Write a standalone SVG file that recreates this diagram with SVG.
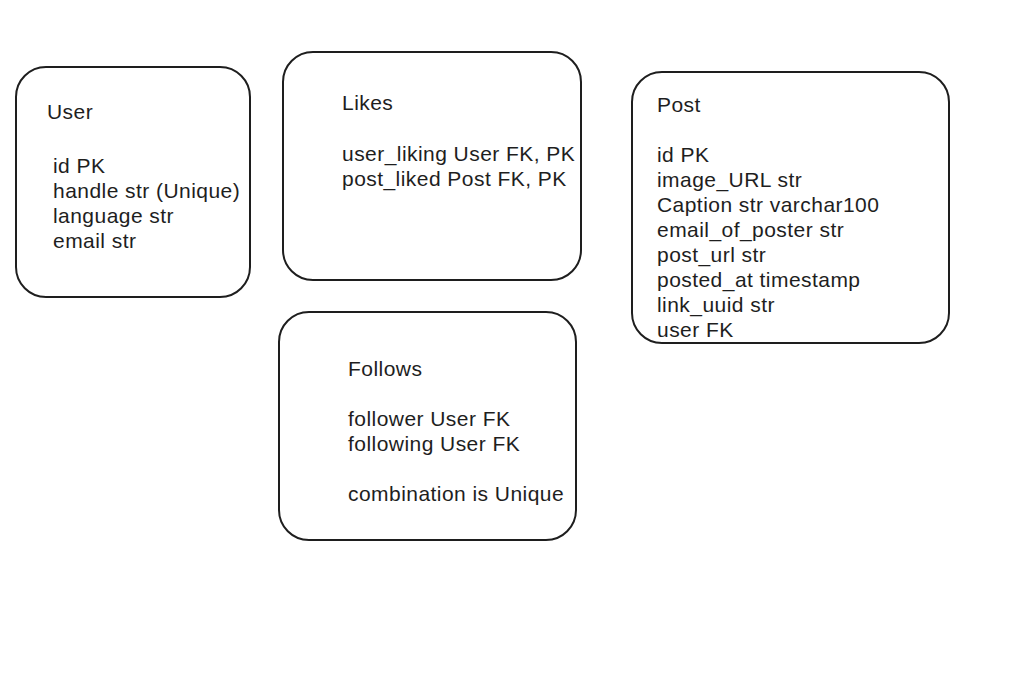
<svg xmlns="http://www.w3.org/2000/svg" width="1032" height="677" viewBox="0 0 1032 677">
<style>
.box{fill:#fff;stroke:#1e1e1e;stroke-width:2}
.t{font-family:"Liberation Sans",Arial,sans-serif;font-size:21px;letter-spacing:0.45px;fill:#1e1e1e}
</style>
<rect width="1032" height="677" fill="#fff"/>
<g id="user">
<rect class="box" x="16" y="67" width="234" height="230" rx="30"/>
<text class="t" x="47" y="119">User</text>
<text class="t" x="53" y="173">id PK</text>
<text class="t" x="53" y="198">handle str (Unique)</text>
<text class="t" x="53" y="223">language str</text>
<text class="t" x="53" y="248">email str</text>
</g>
<g id="likes">
<rect class="box" x="283" y="52" width="298" height="228" rx="30"/>
<text class="t" x="342" y="110">Likes</text>
<text class="t" x="342" y="161">user_liking User FK, PK</text>
<text class="t" x="342" y="186">post_liked Post FK, PK</text>
</g>
<g id="post">
<rect class="box" x="632" y="72" width="317" height="271" rx="30"/>
<text class="t" x="657" y="112">Post</text>
<text class="t" x="657" y="162">id PK</text>
<text class="t" x="657" y="187">image_URL str</text>
<text class="t" x="657" y="212">Caption str varchar100</text>
<text class="t" x="657" y="237">email_of_poster str</text>
<text class="t" x="657" y="262">post_url str</text>
<text class="t" x="657" y="287">posted_at timestamp</text>
<text class="t" x="657" y="312">link_uuid str</text>
<text class="t" x="657" y="337">user FK</text>
</g>
<g id="follows">
<rect class="box" x="279" y="312" width="297" height="228" rx="30"/>
<text class="t" x="348" y="376">Follows</text>
<text class="t" x="348" y="426">follower User FK</text>
<text class="t" x="348" y="451">following User FK</text>
<text class="t" x="348" y="501">combination is Unique</text>
</g>
<g id="connectors"/>
</svg>
